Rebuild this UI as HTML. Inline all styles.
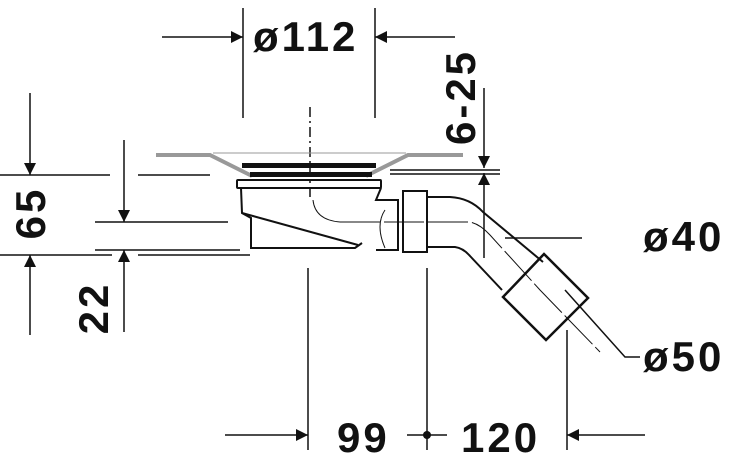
<!DOCTYPE html>
<html><head><style>
html,body{margin:0;padding:0;background:#fff;}
svg{display:block;}
text{font-family:"Liberation Sans",sans-serif;font-weight:bold;fill:#111;}
</style></head><body>
<svg width="734" height="467" viewBox="0 0 734 467" xmlns="http://www.w3.org/2000/svg">
<defs>
<marker id="a" markerWidth="12" markerHeight="12" refX="12" refY="6" orient="auto" markerUnits="userSpaceOnUse" viewBox="0 0 12 12">
<path d="M0,0 L12,6 L0,12 Z" fill="#111"/></marker>
</defs>
<g stroke="#111" stroke-width="1.5" fill="none">
<line x1="162" y1="37" x2="243" y2="37" marker-end="url(#a)"/>
<line x1="455" y1="37" x2="375" y2="37" marker-end="url(#a)"/>
<line x1="243" y1="8" x2="243" y2="118"/>
<line x1="375" y1="8" x2="375" y2="118"/>
<line x1="310" y1="107" x2="310" y2="200" stroke-dasharray="10,4,2,4"/>
<line x1="30" y1="93" x2="30" y2="175" marker-end="url(#a)"/>
<line x1="30" y1="335" x2="30" y2="255" marker-end="url(#a)"/>
<line x1="0" y1="175" x2="110" y2="175"/>
<line x1="138" y1="175" x2="210" y2="175"/>
<line x1="0" y1="255" x2="112" y2="255"/>
<line x1="138" y1="255" x2="250" y2="255"/>
<line x1="124" y1="140" x2="124" y2="222" marker-end="url(#a)"/>
<line x1="124" y1="332" x2="124" y2="250" marker-end="url(#a)"/>
<line x1="95" y1="222" x2="228" y2="222"/>
<line x1="95" y1="250" x2="240" y2="250"/>
<line x1="484" y1="88" x2="484" y2="168" marker-end="url(#a)"/>
<line x1="484" y1="258" x2="484" y2="173" marker-end="url(#a)"/>
<line x1="390" y1="170" x2="500" y2="170"/>
<line x1="390" y1="174" x2="500" y2="174"/>
<line x1="505" y1="238" x2="582" y2="238"/>
<polyline points="565,290 625,357 640,357"/>
<line x1="225" y1="435" x2="308" y2="435" marker-end="url(#a)"/>
<line x1="308" y1="268" x2="308" y2="450"/>
<line x1="427" y1="268" x2="427" y2="450"/>
<line x1="407" y1="435" x2="447" y2="435"/>
<line x1="567" y1="330" x2="567" y2="450"/>
<line x1="645" y1="435" x2="567" y2="435" marker-end="url(#a)"/>
</g>
<circle cx="427" cy="435" r="4" fill="#111"/>
<g stroke="#999" fill="none">
<polyline points="156,155 210,155 252,176" stroke-width="4"/>
<polyline points="463,155 408,155 366,176" stroke-width="4"/>
<line x1="213" y1="153" x2="406" y2="153" stroke-width="1"/>
</g>
<rect x="242" y="163" width="134" height="5" fill="#111"/>
<rect x="250" y="172" width="122" height="5" fill="#111"/>
<g stroke="#111" stroke-width="2" fill="none">
<rect x="237" y="180" width="144" height="8" rx="1"/>
<path d="M241,188 L242,213 L251,218 L251,248 L355,248 L362,243"/>
<path d="M242,213 L358,245"/>
<path d="M381,188 L376,200 L398,200 L398,250 L376,250"/>
<rect x="403" y="191" width="24" height="61"/>
<path d="M427,197 L450,197 Q470,198 483,212 L543,262"/>
<path d="M427,247 L455,247 Q463,248 470,256 L502,290"/>
<path d="M503,297 L544,254 L588,298 L546,340 Z" stroke-width="2.5"/>
</g>
<g stroke="#111" stroke-width="1" fill="none">
<path d="M340,222 L470,222 Q480,224 490,235 L540,290 L600,352" stroke-dasharray="40,4"/>
<path d="M313,200 Q315,220 340,222"/>
<path d="M385,210 Q375,225 385,248"/>
</g>
<g font-size="42" letter-spacing="3">
<text x="253" y="51">ø112</text>
<text x="643" y="251">ø40</text>
<text x="643" y="371">ø50</text>
<text x="337" y="452">99</text>
<text x="461" y="452">120</text>
<text transform="translate(45,213) rotate(-90)" text-anchor="middle">65</text>
<text transform="translate(108,308) rotate(-90)" text-anchor="middle">22</text>
<text transform="translate(475,97) rotate(-90)" text-anchor="middle">6-25</text>
</g>
</svg>
</body></html>
